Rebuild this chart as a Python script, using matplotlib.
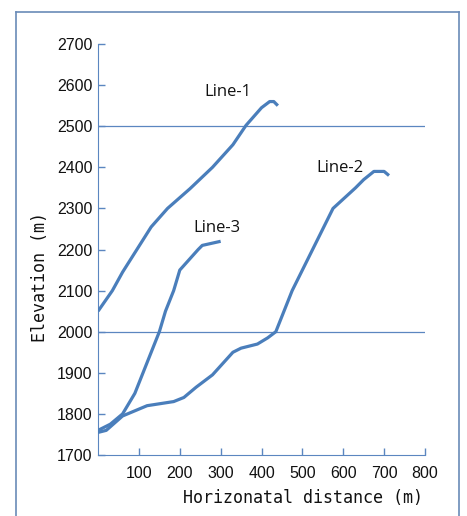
import matplotlib
matplotlib.use("Agg")
from matplotlib import pyplot as plt
from matplotlib.lines import Line2D

# Line-1
x1 = [0, 35, 60, 95, 130, 170, 225, 280, 330, 362, 400, 420, 430, 440]
y1 = [2050, 2100, 2145, 2200, 2255, 2300, 2348, 2400, 2455, 2502, 2545, 2560, 2560, 2550]
# Line-2
x2 = [0, 20, 60, 120, 185, 210, 240, 280, 330, 350, 390, 415, 435, 455, 475, 500,
      525, 550, 575, 630, 650, 675, 700, 712]
y2 = [1755, 1760, 1795, 1820, 1830, 1840, 1865, 1895, 1950, 1960, 1970, 1985, 2000,
      2050, 2100, 2150, 2200, 2250, 2300, 2350, 2370, 2390, 2390, 2380]
# Line-3
x3 = [0, 30, 60, 90, 110, 130, 150, 165, 185, 200, 245, 255, 300]
y3 = [1760, 1775, 1800, 1850, 1900, 1950, 2000, 2050, 2100, 2150, 2200, 2210, 2220]

ref_levels = [2000, 2500]
labels = ["Line-1", "Line-2", "Line-3"]
label_pos = [(318, 2583), (592, 2398), (291, 2252)]

line_c = "#4a7ebb"
axis_c = "#5b86c0"

fig = plt.figure(figsize=(4.67, 5.16), dpi=100)
ax = fig.add_axes([0.21, 0.1182, 0.700, 0.7965])

for lv in ref_levels:
    ax.plot([0, 800], [lv, lv], color=axis_c, lw=0.9, zorder=1)

for xs, ys in [(x1, y1), (x2, y2), (x3, y3)]:
    ax.plot(xs, ys, color=line_c, lw=2.3, solid_capstyle='butt', zorder=3)

for t, (lx, ly) in zip(labels, label_pos):
    ax.text(lx, ly, t, ha='center', va='center', fontsize=12,
            family=['Open Sans', 'DejaVu Sans'], color='#111111')

ax.set_xlim(0, 800)
ax.set_ylim(1700, 2700)
ax.set_xticks(range(100, 801, 100))
ax.set_yticks(range(1700, 2701, 100))
ax.spines['top'].set_visible(False)
ax.spines['right'].set_visible(False)
ax.spines['left'].set_color(axis_c)
ax.spines['bottom'].set_color(axis_c)
ax.tick_params(direction='in', length=5, width=1, color=axis_c, labelsize=11.5,
               labelcolor='#111111')
ax.tick_params(axis='x', pad=8)
ax.tick_params(axis='y', pad=4)
for lab in ax.get_xticklabels() + ax.get_yticklabels():
    lab.set_family(['Liberation Sans', 'DejaVu Sans'])

ax.set_xlabel("Horizonatal distance (m)", family='DejaVu Sans Mono', fontsize=12,
              color='#111111')
ax.set_ylabel("Elevation (m)", family='DejaVu Sans Mono', fontsize=12,
              color='#111111')
ax.xaxis.set_label_coords(0.628, -0.083)
ax.yaxis.set_label_coords(-0.15, 0.433)

# outer frame
for xs, ys in [([16/467, 16/467], [0, 1-12/516]),
               ([16/467, 459/467], [1-12/516, 1-12/516]),
               ([459/467, 459/467], [1-12/516, 0])]:
    fig.add_artist(Line2D(xs, ys, color="#6a8bb8", lw=1.2, transform=fig.transFigure))

fig.savefig("out.png", dpi=100)
